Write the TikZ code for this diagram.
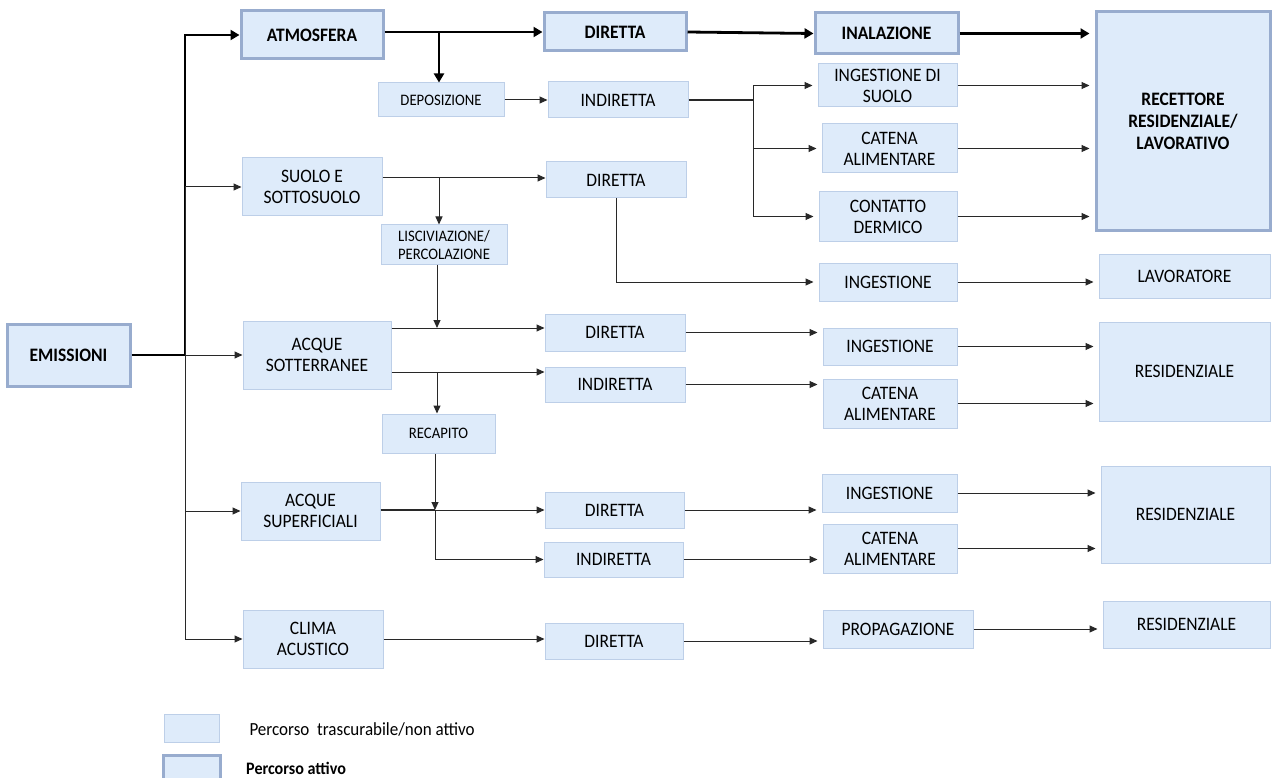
\documentclass[tikz,border=0pt]{standalone}
\usepackage{fontspec}
\setmainfont{Carlito}[FakeStretch=0.92]
\usepackage{xcolor}
\usetikzlibrary{arrows.meta}
\definecolor{boxfill}{RGB}{222,235,250}
\definecolor{boxline}{RGB}{189,207,232}
\definecolor{activeline}{RGB}{152,172,206}
\definecolor{linegray}{RGB}{40,40,40}

\begin{document}
\begin{tikzpicture}[x=1pt,y=-1pt,
    box/.style={fill=boxfill,draw=boxline,line width=1pt,align=center,inner sep=0pt,font=\fontsize{19}{21}\selectfont},
    smallbox/.style={box,font=\fontsize{16}{18}\selectfont},
    activebox/.style={box,draw=activeline,line width=3pt,font=\bfseries\fontsize{19}{22}\selectfont},
    link/.style={draw=linegray,line width=1pt},
    arrow/.style={link,-{Triangle[length=8pt,width=7pt]}},
    mainlink/.style={draw=black,line width=2.8pt},
    mainarrow/.style={mainlink,-{Triangle[length=9pt,width=10pt]}},
    gap/.style={shorten >=5pt}]
                    \fill[white] (0,0) rectangle (1274,778);
                    \useasboundingbox (0,0) rectangle (1274,778);

                    \node[activebox,minimum width=123,minimum height=62] (emi) at (68.5,355) {EMISSIONI};
                    \node[activebox,minimum width=142,minimum height=48] (atm) at (312,35) {ATMOSFERA};
                    \node[smallbox,minimum width=126,minimum height=34] (dep) at (441,100) {DEPOSIZIONE};
                    \node[box,minimum width=140,minimum height=58] (suolo) at (312,187) {SUOLO E\\SOTTOSUOLO};
                    \node[smallbox,minimum width=126,minimum height=39] (lisc) at (444,244.5) {LISCIVIAZIONE/\\PERCOLAZIONE};
                    \node[box,minimum width=148,minimum height=68] (asott) at (317,355) {ACQUE\\SOTTERRANEE};
                    \node[smallbox,minimum width=113,minimum height=39] (recap) at (438.5,433.5) {RECAPITO};
                    \node[box,minimum width=139,minimum height=58] (asup) at (310.5,511) {ACQUE\\SUPERFICIALI};
                    \node[box,minimum width=140,minimum height=58] (clima) at (313,639) {CLIMA\\ACUSTICO};

                    \node[activebox,minimum width=142,minimum height=38] (dir1) at (615,32) {DIRETTA};
                    \node[box,minimum width=140,minimum height=36] (ind1) at (618,100) {INDIRETTA};
                    \node[box,minimum width=140,minimum height=36] (dir2) at (616,180) {DIRETTA};
                    \node[box,minimum width=140,minimum height=37] (dir3) at (615,332.5) {DIRETTA};
                    \node[box,minimum width=140,minimum height=35] (ind3) at (615,384.5) {INDIRETTA};
                    \node[box,minimum width=139,minimum height=36] (dir4) at (614.5,510) {DIRETTA};
                    \node[box,minimum width=139,minimum height=35] (ind4) at (613.5,559.5) {INDIRETTA};
                    \node[box,minimum width=138,minimum height=36] (dir5) at (614,641) {DIRETTA};

                    \node[activebox,minimum width=143,minimum height=41] (inal) at (886.5,33.5) {INALAZIONE};
                    \node[box,minimum width=139,minimum height=43] (ingsuolo) at (887.5,85.5) {INGESTIONE DI\\SUOLO};
                    \node[box,minimum width=135,minimum height=49] (catena1) at (889.5,148.5) {CATENA\\ALIMENTARE};
                    \node[box,minimum width=138,minimum height=49] (contatto) at (888,216.5) {CONTATTO\\DERMICO};
                    \node[box,minimum width=138,minimum height=38] (ing2) at (888,282) {INGESTIONE};
                    \node[box,minimum width=134,minimum height=37] (ing3) at (890,346.5) {INGESTIONE};
                    \node[box,minimum width=134,minimum height=49] (catena3) at (890,403.5) {CATENA\\ALIMENTARE};
                    \node[box,minimum width=135,minimum height=38] (ing4) at (889.5,493) {INGESTIONE};
                    \node[box,minimum width=134,minimum height=49] (catena4) at (890,548.5) {CATENA\\ALIMENTARE};
                    \node[box,minimum width=150,minimum height=38] (prop) at (898,629) {PROPAGAZIONE};

                    \node[activebox,minimum width=174,minimum height=218] (rec) at (1183,121) {RECETTORE\\RESIDENZIALE/\\LAVORATIVO};
                    \node[box,minimum width=171,minimum height=44] (lav) at (1184.5,276) {LAVORATORE};
                    \node[box,minimum width=171,minimum height=99] (res3) at (1184.5,371.5) {RESIDENZIALE};
                    \node[box,minimum width=169,minimum height=97] (res4) at (1185.5,514.5) {RESIDENZIALE};
                    \node[box,minimum width=167,minimum height=47] (res5) at (1186.5,624.5) {RESIDENZIALE};

                    \node[box,minimum width=55,minimum height=28] (leg1) at (191.5,728) {};
                    \node[activebox,minimum width=57,minimum height=36] (leg2) at (191.5,773) {};
                    \node[anchor=west,font=\fontsize{18.5}{20}\selectfont] (legtext1) at (246,729) {Percorso~ trascurabile/non attivo};
                    \node[anchor=base west,inner sep=0pt,font=\bfseries\fontsize{17.5}{20}\selectfont] (legtext2) at (246,774) {Percorso attivo};

                    \coordinate (trunk) at (185,355);
                    \coordinate (jatm) at (439,32);
                    \coordinate (jsuolo) at (439,178);
                    \coordinate (jlisc) at (437,328);
                    \coordinate (jrecap) at (437,372);
                    \coordinate (jsup) at (435,510);
                    \coordinate (jind) at (753,100);

                    \draw[mainlink] (emi.east) -- (trunk);
                    \draw[mainarrow] (trunk) |- (atm.west);
                    \draw[arrow] (trunk) |- (suolo.west);
                    \draw[arrow] (trunk) -- (asott.west);
                    \draw[arrow] (trunk) |- (asup.west);
                    \draw[arrow] (trunk) |- (clima.west);

                    \draw[mainarrow] (atm.east |- jatm) -- (dir1.west |- jatm);
                    \draw[mainarrow] (jatm) -- (jatm |- dep.north);
                    \draw[mainarrow] (dir1.east) -- (inal.west);
                    \draw[mainarrow,gap] (inal.east) -- (inal.east -| rec.west);

                    \draw[arrow] (dep.east) -- (dep.east -| ind1.west);
                    \draw[link,line width=1.5pt] (ind1.east) -- (jind);
                    \draw[arrow,gap] (jind) |- (ingsuolo.west);
                    \draw[arrow,gap] (jind) |- (catena1.west);
                    \draw[arrow,gap] (jind) |- (contatto.west);
                    \draw[arrow,gap] (ingsuolo.east) -- (ingsuolo.east -| rec.west);
                    \draw[arrow,gap] (catena1.east) -- (catena1.east -| rec.west);
                    \draw[arrow,gap] (contatto.east) -- (contatto.east -| rec.west);

                    \draw[arrow] (suolo.east |- jsuolo) -- (dir2.west |- jsuolo);
                    \draw[arrow] (jsuolo) -- (jsuolo |- lisc.north);
                    \draw[arrow,gap] (dir2.south) |- (ing2.west);
                    \draw[arrow,gap] (ing2.east) -- (ing2.east -| lav.west);

                    \draw[arrow] (jlisc |- lisc.south) -- (jlisc);
                    \draw[arrow] (asott.east |- jlisc) -- (dir3.west |- jlisc);
                    \draw[arrow] (asott.east |- jrecap) -- (ind3.west |- jrecap);
                    \draw[arrow] (jrecap) -- (jrecap |- recap.north);
                    \draw[arrow,gap] (dir3.east) -- (dir3.east -| ing3.west);
                    \draw[arrow,gap] (ind3.east) -- (ind3.east -| catena3.west);
                    \draw[arrow,gap] (ing3.east) -- (ing3.east -| res3.west);
                    \draw[arrow,gap] (catena3.east) -- (catena3.east -| res3.west);

                    \draw[arrow] (jsup |- recap.south) -- (jsup);
                    \draw[link,line width=2pt] (asup.east |- jsup) -- (jsup);
                    \draw[arrow] (jsup) -- (dir4.west |- jsup);
                    \draw[arrow] (jsup) |- (ind4.west);
                    \draw[arrow,gap] (dir4.east) -- (dir4.east -| ing4.west);
                    \draw[arrow,gap] (ind4.east) -- (ind4.east -| catena4.west);
                    \draw[arrow,gap] (ing4.east) -- (ing4.east -| res4.west);
                    \draw[arrow,gap] (catena4.east) -- (catena4.east -| res4.west);

                    \draw[arrow] (clima.east) -- (clima.east -| dir5.west);
                    \draw[arrow,gap] (dir5.east) -- (dir5.east -| prop.west);
                    \draw[arrow,gap] (prop.east) -- (prop.east -| res5.west);
                \end{tikzpicture}
\end{document}
